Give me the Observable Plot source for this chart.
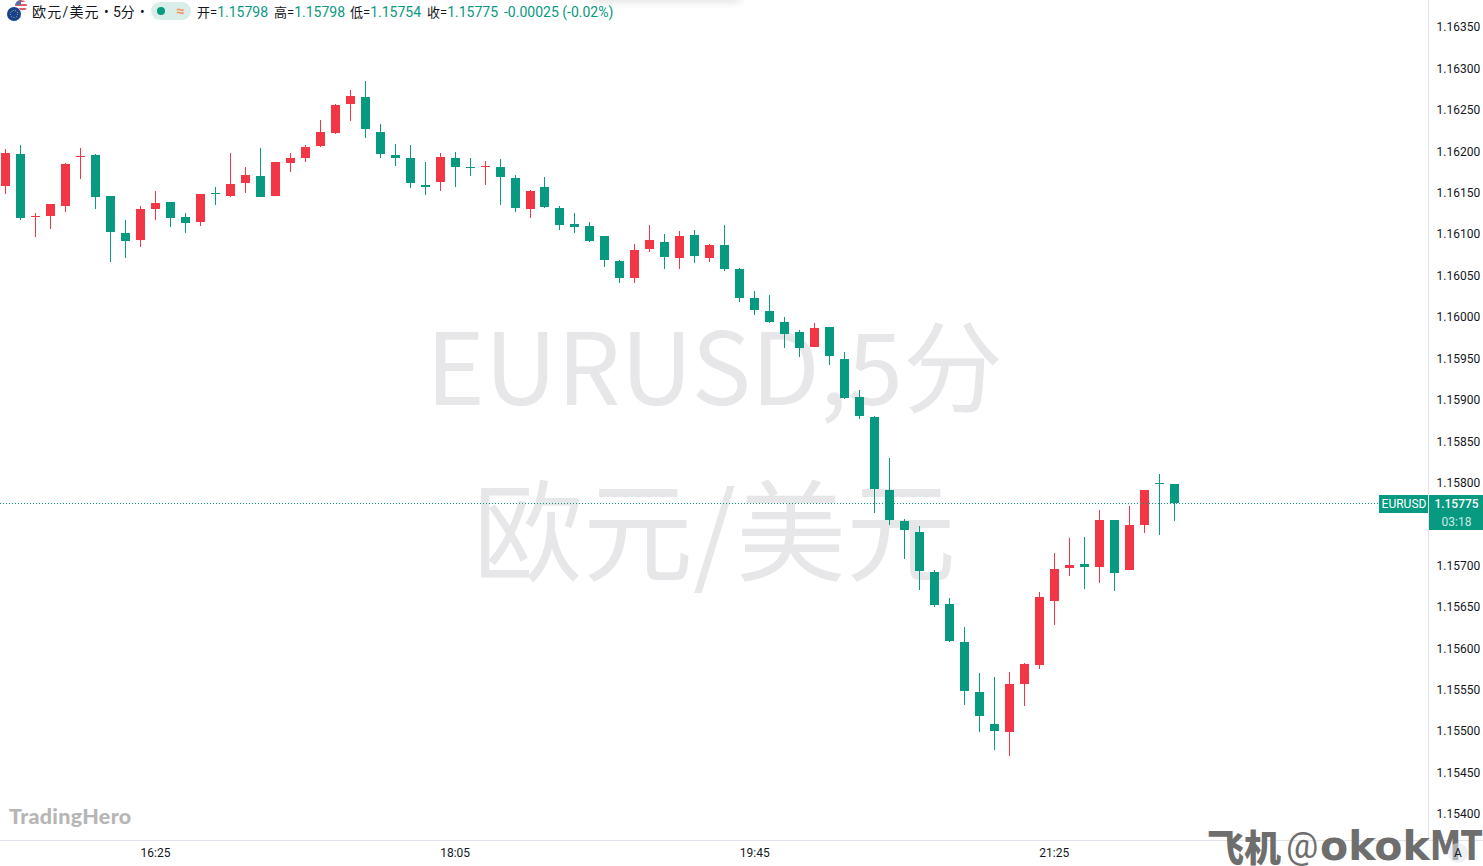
<!DOCTYPE html>
<html><head><meta charset="utf-8">
<script src="https://cdn.jsdelivr.net/npm/d3@7"></script>
<script src="https://cdn.jsdelivr.net/npm/@observablehq/plot@0.6"></script>
<style>
html,body{margin:0;padding:0;background:#fff;overflow:hidden}
#wrap{position:relative;width:1483px;height:866px;overflow:hidden;font-family:Roboto,"Noto Sans CJK SC",sans-serif;color:#131722}
#wrap svg{display:block}
.a{position:absolute;white-space:nowrap}
.h{font-size:13px;line-height:16px;top:4px;font-family:Roboto,"Noto Sans CJK SC",sans-serif}
.g{color:#089981;font-size:14px}
</style></head><body><div id="wrap"></div>
<script>
const times = ["15:35","15:40","15:45","15:50","15:55","16:00","16:05","16:10","16:15","16:20","16:25","16:30","16:35","16:40","16:45","16:50","16:55","17:00","17:05","17:10","17:15","17:20","17:25","17:30","17:35","17:40","17:45","17:50","17:55","18:00","18:05","18:10","18:15","18:20","18:25","18:30","18:35","18:40","18:45","18:50","18:55","19:00","19:05","19:10","19:15","19:20","19:25","19:30","19:35","19:40","19:45","19:50","19:55","20:00","20:05","20:10","20:15","20:20","20:25","20:30","20:35","20:40","20:45","20:50","20:55","21:00","21:05","21:10","21:15","21:20","21:25","21:30","21:35","21:40","21:45","21:50","21:55","22:00","22:05"];
const high = [1.16203,1.16208,1.16125,1.16136,1.16186,1.16204,1.16197,1.16146,1.16117,1.16134,1.16152,1.16139,1.16125,1.16148,1.16157,1.16198,1.16181,1.16204,1.16187,1.16198,1.16208,1.16238,1.16257,1.16274,1.16285,1.16233,1.16209,1.16208,1.16187,1.16198,1.16199,1.16192,1.16188,1.16191,1.16171,1.16153,1.16169,1.16134,1.16125,1.16115,1.16098,1.16069,1.16088,1.16111,1.16100,1.16104,1.16105,1.16088,1.16111,1.16059,1.16031,1.16026,1.16000,1.15984,1.15993,1.15988,1.15958,1.15912,1.15880,1.15830,1.15756,1.15748,1.15695,1.15661,1.15626,1.15570,1.15565,1.15571,1.15582,1.15668,1.15715,1.15733,1.15734,1.15767,1.15755,1.15772,1.15791,1.15810,1.15798];
const low = [1.16148,1.16117,1.16097,1.16106,1.16127,1.16167,1.16130,1.16066,1.16071,1.16084,1.16117,1.16109,1.16101,1.16110,1.16135,1.16145,1.16150,1.16145,1.16146,1.16175,1.16187,1.16205,1.16221,1.16236,1.16216,1.16192,1.16182,1.16156,1.16147,1.16152,1.16157,1.16170,1.16159,1.16135,1.16127,1.16119,1.16132,1.16105,1.16101,1.16090,1.16060,1.16041,1.16041,1.16078,1.16058,1.16058,1.16065,1.16066,1.16055,1.16018,1.16002,1.15993,1.15962,1.15952,1.15964,1.15942,1.15901,1.15877,1.15763,1.15749,1.15708,1.15670,1.15650,1.15608,1.15532,1.15499,1.15477,1.15470,1.15530,1.15575,1.15628,1.15687,1.15672,1.15679,1.15669,1.15695,1.15739,1.15737,1.15754];
const open = [1.16158,1.16197,1.16121,1.16122,1.16134,1.16193,1.16195,1.16146,1.16101,1.16093,1.16130,1.16139,1.16121,1.16115,1.16150,1.16146,1.16162,1.16170,1.16146,1.16186,1.16192,1.16206,1.16222,1.16257,1.16266,1.16223,1.16195,1.16192,1.16159,1.16163,1.16192,1.16181,1.16181,1.16181,1.16168,1.16130,1.16157,1.16132,1.16112,1.16110,1.16098,1.16068,1.16047,1.16082,1.16090,1.16071,1.16099,1.16071,1.16087,1.16058,1.16023,1.16007,1.15994,1.15982,1.15964,1.15988,1.15949,1.15903,1.15879,1.15791,1.15754,1.15740,1.15692,1.15654,1.15608,1.15547,1.15509,1.15499,1.15557,1.15580,1.15657,1.15697,1.15702,1.15698,1.15755,1.15695,1.15749,1.15800,1.15798];
const close = [1.16198,1.16119,1.16122,1.16136,1.16185,1.16194,1.16145,1.16102,1.16092,1.16130,1.16138,1.16119,1.16113,1.16148,1.16148,1.16160,1.16171,1.16145,1.16187,1.16192,1.16205,1.16223,1.16256,1.16267,1.16227,1.16197,1.16192,1.16162,1.16157,1.16193,1.16181,1.16180,1.16182,1.16169,1.16132,1.16152,1.16133,1.16111,1.16109,1.16092,1.16069,1.16047,1.16081,1.16093,1.16072,1.16098,1.16074,1.16087,1.16058,1.16023,1.16008,1.15994,1.15979,1.15962,1.15987,1.15953,1.15902,1.15880,1.15792,1.15755,1.15743,1.15693,1.15652,1.15609,1.15549,1.15518,1.15500,1.15557,1.15581,1.15662,1.15696,1.15701,1.15698,1.15755,1.15691,1.15749,1.15791,1.15798,1.15775];
const yTicks = [1.1635,1.163,1.1625,1.162,1.1615,1.161,1.1605,1.16,1.1595,1.159,1.1585,1.158,1.157,1.1565,1.156,1.1555,1.155,1.1545,1.154];
const xTicks = ["16:25","18:05","19:45","21:25"];
const lastPrice = 1.15775;
const header = [["开","1.15798",197],["高","1.15798",274],["低","1.15754",350],["收","1.15775",427]];

const UP = "#f23645", DOWN = "#089981", GRID = "#e0e3eb";
const mins = t => { const [h,m] = t.split(":").map(Number); return h*60+m; };
const candles = times.map((t,i)=>({m:mins(t),open:open[i],high:high[i],low:low[i],close:close[i]}));
const color = d => d.close > d.open ? UP : DOWN;
const PER = 5/14.98, X0 = 935 - 5.2*PER;
const xp = p => X0 + p*PER;
const crisp = {shapeRendering:"crispEdges"};
const yMin = 1.153686, yMax = 1.163826;
const wmFont = '"Noto Sans CJK SC",Roboto,sans-serif';

const chart = Plot.plot({
  width:1483, height:866, marginLeft:0, marginRight:55, marginTop:0, marginBottom:26,
  style:{fontFamily:'Roboto,"Noto Sans CJK SC",sans-serif',background:"#fff",overflow:"visible"},
  x:{type:"linear",domain:[X0,xp(1428)]},
  y:{domain:[yMin,yMax]},
  marks:[
    Plot.text(["EURUSD,5分"],{frameAnchor:"middle",dy:-48,fontSize:100,fill:"#e7e7e9",fontFamily:wmFont,fontWeight:400}),
    Plot.text(["欧元/美元"],{frameAnchor:"middle",dy:117,fontSize:110,fill:"#e7e7e9",fontFamily:wmFont,fontWeight:400}),
    Plot.ruleY([yMin],{x1:xp(0),x2:xp(1483),stroke:GRID,...crisp}),
    Plot.ruleX([xp(1428)],{y1:yMin,y2:yMax,stroke:GRID,...crisp}),
    Plot.ruleX(candles,{x:"m",y1:"low",y2:"high",stroke:color,strokeWidth:1,...crisp}),
    Plot.ruleX(candles,{x:"m",y1:"open",y2:"close",stroke:color,strokeWidth:9,...crisp}),
    Plot.ruleY([lastPrice],{x1:xp(0),x2:xp(1378),stroke:DOWN,strokeDasharray:"1,2",...crisp}),
    Plot.ruleY([lastPrice],{x1:xp(1378.5),x2:xp(1428),stroke:DOWN,strokeWidth:18,...crisp}),
    Plot.ruleY([lastPrice],{x1:xp(1428.5),x2:xp(1483),stroke:DOWN,strokeWidth:18,...crisp}),
    Plot.ruleY([lastPrice],{x1:xp(1428.5),x2:xp(1483),stroke:DOWN,strokeWidth:17.5,dy:17.5,...crisp}),
    Plot.axisY({anchor:"right",ticks:yTicks,tickSize:0,tickPadding:8,label:null,tickFormat:d=>d.toFixed(5),fontSize:12,fill:"#131722"}),
    Plot.axisX({ticks:xTicks.map(mins),tickSize:0,tickPadding:8,label:null,tickFormat:m=>xTicks.find(t=>mins(t)===m),fontSize:12,fill:"#131722"}),
    Plot.text(["EURUSD"],{x:xp(1403.5),y:[lastPrice],fill:"#fff",fontSize:12}),
    Plot.text([lastPrice.toFixed(5)],{x:xp(1456),y:[lastPrice],fill:"#fff",fontSize:12,fontWeight:500}),
    Plot.text(["03:18"],{x:xp(1456),y:[lastPrice],dy:18,fill:"#cde9e3",fontSize:12})
  ]
});
const wrap = document.getElementById("wrap");
wrap.appendChild(chart);
const add = (cls,css,html)=>{const e=document.createElement("div");e.className="a "+cls;e.style.cssText=css;e.innerHTML=html;wrap.appendChild(e);return e;};

add("","left:590px;top:-10px;width:150px;height:10px;box-shadow:0 2px 8px rgba(0,0,0,.12)","");
add("","left:6px;top:0;width:24px;height:22px",`<svg width="24" height="22" viewBox="0 0 24 22"><defs><clipPath id="u"><circle cx="15" cy="6" r="6"/></clipPath></defs><g clip-path="url(#u)"><rect x="9" y="0" width="12" height="12" fill="#fff"/><rect x="9" y="0" width="12" height="2" fill="#e0606a"/><rect x="9" y="4" width="12" height="2" fill="#e0606a"/><rect x="9" y="8" width="12" height="2" fill="#e0606a"/><rect x="9" y="0" width="6" height="5" fill="#5a6ea8"/></g><circle cx="8" cy="14" r="7.6" fill="#fff"/><circle cx="8" cy="14" r="7" fill="#15418f"/><circle cx="8" cy="14" r="3.6" fill="none" stroke="#e5c94a" stroke-width="1" stroke-dasharray="1,1.5"/></svg>`);
add("h","left:32px;font-size:14px;letter-spacing:1.2px","欧元/美元");
add("h","left:104px;font-size:14px","•");
add("h","left:113px;font-size:14px","5分");
add("h","left:140px;font-size:14px","•");
add("","left:151px;top:2px;width:40px;height:18px;border-radius:9px;background:#daeee9","");
add("","left:157px;top:7px;width:8px;height:8px;border-radius:50%;background:#089981","");
add("h","left:176px;top:3px;color:#f7925b;font-weight:700;font-size:15px","≈");
header.forEach(([k,v,x])=>add("h",`left:${x}px`,`${k}=<span class="g">${v}</span>`));
add("h g","left:504px;font-size:14px","-0.00025 (-0.02%)");

add("","left:9px;top:803px;font:900 21.5px Lato,Roboto,sans-serif;color:#b6b6b6;letter-spacing:.3px","TradingHero");
add("","left:1207px;top:828px;font:900 37px/37px 'Noto Sans CJK SC',sans-serif;color:#6e6e6e","飞机");
add("","left:1286px;top:828px;font:400 36px/37px Roboto,sans-serif;color:#6e6e6e","@");
add("","left:1320px;top:827px;font:700 41px/38px 'DejaVu Sans',sans-serif;color:#6e6e6e","okok");
add("","left:1430px;top:827px;font:700 41px/38px 'DejaVu Sans',sans-serif;color:#6e6e6e;transform:scaleX(.76);transform-origin:left","MT");
add("","left:1448px;top:843px;width:20px;height:20px;border-radius:50%;background:rgba(224,227,235,.55);text-align:center;font:12px/20px Roboto,sans-serif;color:#131722","A");
</script></body></html>
